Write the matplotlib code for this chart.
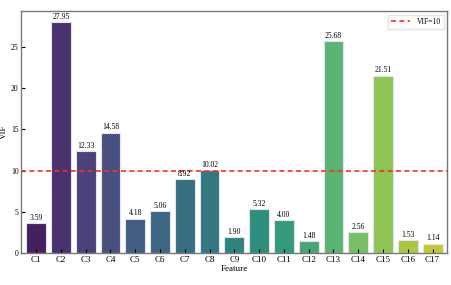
import numpy as np
import matplotlib.pyplot as plt
import seaborn as sns

features = ['C%d' % i for i in range(1, 18)]
vif = [3.59, 27.95, 12.33, 14.58, 4.18, 5.06, 8.92, 10.02, 1.90,
       5.32, 4.00, 1.48, 25.68, 2.56, 21.51, 1.53, 1.14]
threshold = 10

plt.rcParams['font.family'] = ['Liberation Serif', 'DejaVu Serif']

fig, ax = plt.subplots(figsize=(4.52, 2.85), dpi=100)
# seaborn barplot desaturates to 0.75 by default
colors = [sns.desaturate(c, 0.75) for c in sns.color_palette('viridis', len(features))]
x = np.arange(len(features))
bars = ax.bar(x, vif, width=0.8, color=colors,
              edgecolor='#dfe6ea', linewidth=0.8)

for b, v in zip(bars, vif):
    ax.text(b.get_x() + b.get_width() / 2, v + 0.15, '%.2f' % v,
            ha='center', va='bottom', fontsize=5.5)

ax.axhline(threshold, color='#ff2a2a', linestyle='--', linewidth=1.2,
           dashes=(3, 2), label='VIF=10')
ax.legend(loc='upper right', fontsize=5.5, frameon=True, fancybox=False,
          edgecolor='#dddddd', handlelength=2.5)

ax.set_xticks(x)
ax.set_xticklabels(features)
ax.set_xlim(-0.6, len(features) - 0.4)
ax.set_ylim(0, max(vif) * 1.05)
ax.set_xlabel('Feature', fontsize=6.5, labelpad=1)
ax.set_ylabel('VIF', fontsize=6.5, labelpad=2)
ax.tick_params(direction='in', labelsize=6.5, length=3, width=0.8, pad=2)
ax.tick_params(axis='y', labelsize=5.5)
for s in ax.spines.values():
    s.set_color('#777777')
    s.set_linewidth(1)

fig.subplots_adjust(left=0.047, right=0.99, top=0.962, bottom=0.112)
fig.savefig('out.png', dpi=100)
